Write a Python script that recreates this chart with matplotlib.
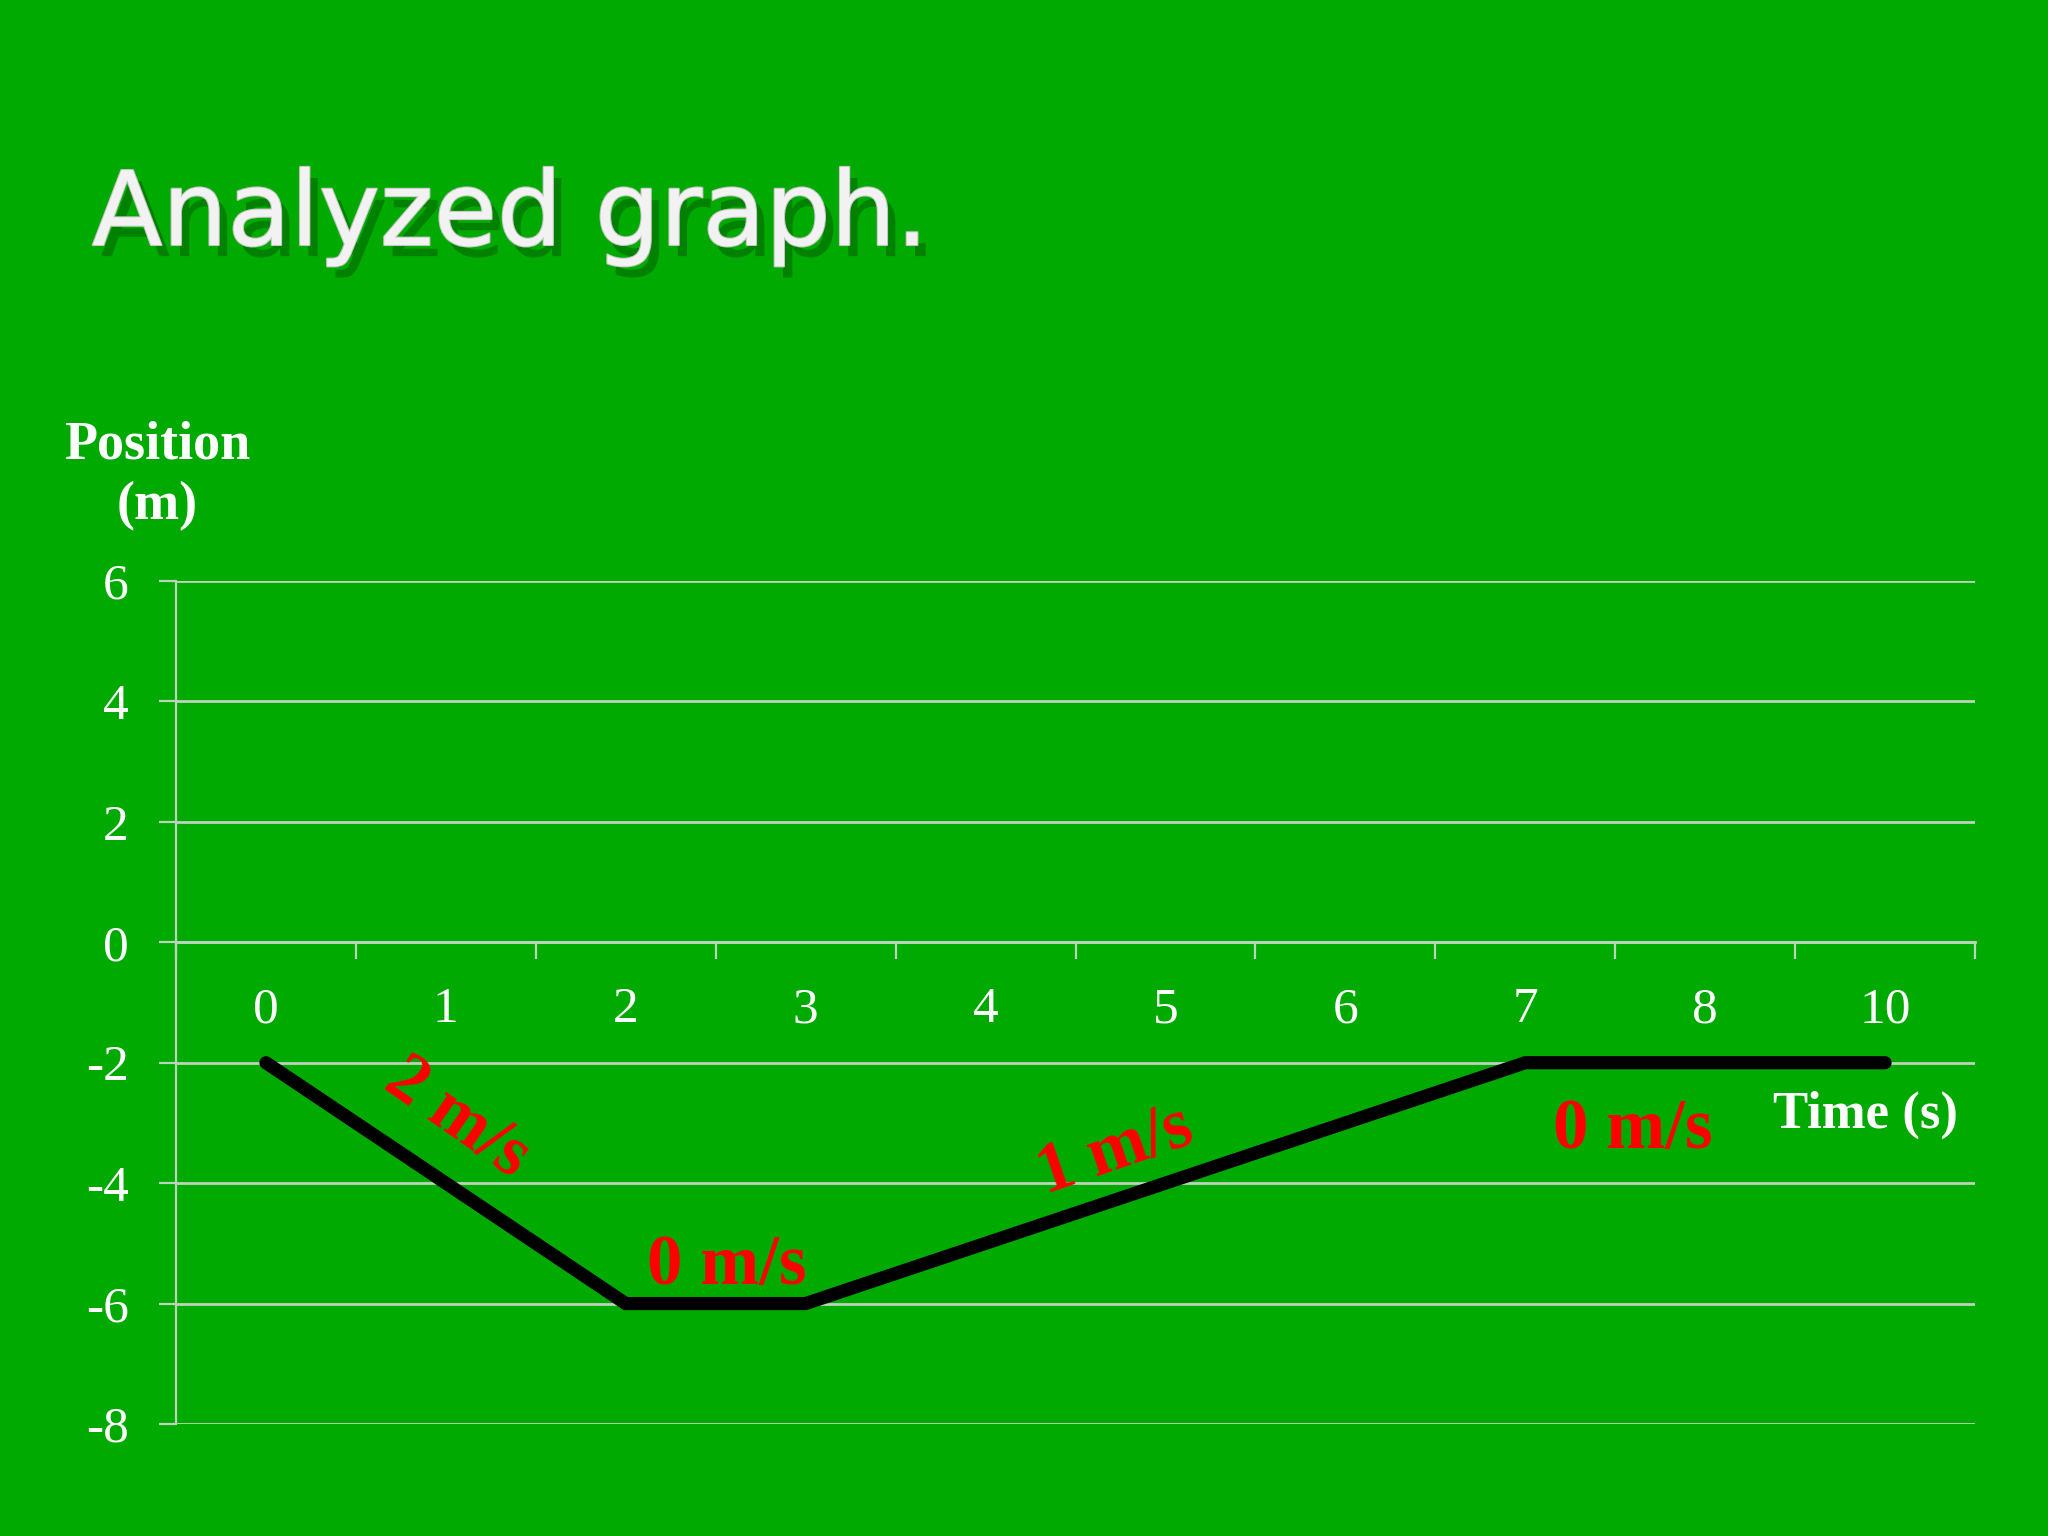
import numpy as np
import matplotlib
matplotlib.use("Agg")
import matplotlib.pyplot as plt
import matplotlib.patheffects as pe
from matplotlib.ticker import FixedLocator

# ---- data ----
categories = ['0', '1', '2', '3', '4', '5', '6', '7', '8', '10']
position = [-2, np.nan, -6, -6, np.nan, np.nan, np.nan, -2, np.nan, -2]
y_ticks = [-8, -6, -4, -2, 0, 2, 4, 6]
y_tick_labels = ['-8', '-6', '-4', '-2', '0', '2', '4', '6']
title = "Analyzed graph."
y_label = "Position\n(m)"
x_label = "Time (s)"
speed_labels = ['2 m/s', '0 m/s', '1 m/s', '0 m/s']
speed_x = [1.06, 2.56, 4.72, 7.60]
speed_y = [-2.92, -5.39, -3.48, -3.13]
speed_rot = [-35, 0, 19, 0]

BG = '#00aa00'
GRID = '#bcd3bc'
SERIF = 'Liberation Serif'

fig = plt.figure(figsize=(20.48, 15.36), dpi=100, facecolor=BG)
ax = fig.add_axes([176/2048, 1 - 1424/1536, (1975-176)/2048, (1424-581)/1536])
ax.set_facecolor(BG)

xs = np.arange(len(categories))
vals = np.array(position, dtype=float)
mask = ~np.isnan(vals)
ax.plot(xs[mask], vals[mask], color='black', lw=9.5, solid_capstyle='round',
        solid_joinstyle='miter', zorder=5)

ax.set_xlim(-0.5, len(categories) - 0.5)
ax.set_ylim(-8, 6)

# y axis
ax.set_yticks(y_ticks)
ax.set_yticklabels(y_tick_labels, fontfamily=SERIF, fontsize=37, color='white')
ax.yaxis.grid(True, color=GRID, lw=2.0)
ax.tick_params(axis='y', length=12, width=1.6, color=GRID, pad=22)

# x axis at y=0 with category ticks
ax.spines['top'].set_visible(False)
ax.spines['right'].set_visible(False)
ax.spines['left'].set_color(GRID)
ax.spines['left'].set_linewidth(1.6)
ax.spines['bottom'].set_position(('data', 0))
ax.spines['bottom'].set_color(GRID)
ax.spines['bottom'].set_linewidth(2.0)
ax.set_xticks(xs)
ax.set_xticklabels(categories, fontfamily=SERIF, fontsize=37, color='white')
ax.xaxis.set_minor_locator(FixedLocator(np.arange(len(categories) + 1) - 0.5))
ax.tick_params(axis='x', which='major', length=0, pad=32)
ax.tick_params(axis='x', which='minor', length=12, width=1.6, color=GRID, direction='out')
ax.set_axisbelow(True)

# speed annotations
for t, x, y, r in zip(speed_labels, speed_x, speed_y, speed_rot):
    ax.text(x, y, t, color='#ff0000', fontfamily=SERIF, fontsize=51, fontweight='bold',
            ha='center', va='center', rotation=r, rotation_mode='anchor', zorder=6)

# axis titles
ax.text(8.89, -2.87, x_label, color='white', fontfamily=SERIF, fontsize=38,
        fontweight='bold', ha='center', va='center', zorder=6)
fig.text(157/2048, 1 - 476/1536, y_label, color='white', fontfamily=SERIF, fontsize=39,
         fontweight='bold', ha='center', va='center', multialignment='center', linespacing=1.3)

# slide title
fig.text(92/2048, 1 - 245/1536, title, color='#f2f2f2', fontfamily='DejaVu Sans', fontsize=74,
         ha='left', va='baseline',
         path_effects=[pe.withSimplePatchShadow(offset=(6, -8), shadow_rgbFace='#005000', alpha=0.45),
                       pe.withStroke(linewidth=1.5, foreground='#c4c4c4')])

fig.savefig('out.png', dpi=100, facecolor=BG)
